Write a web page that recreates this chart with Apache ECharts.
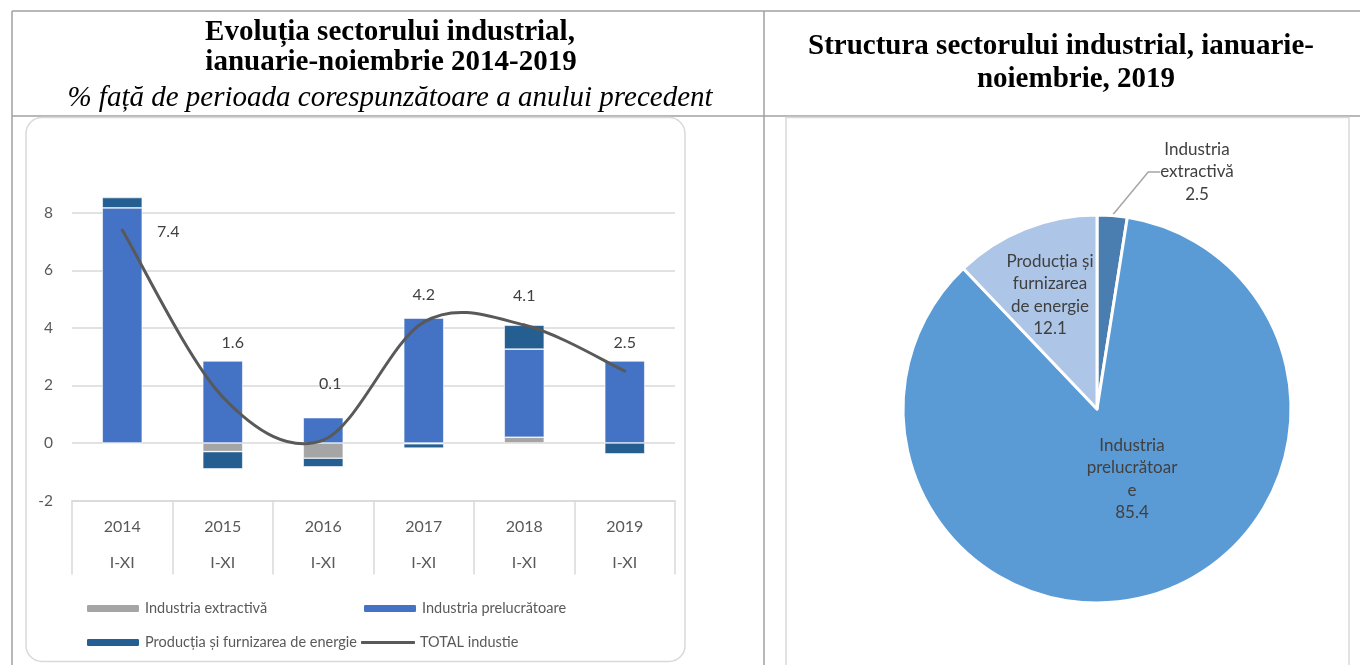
<!DOCTYPE html>
<html>
<head>
<meta charset="utf-8">
<script src="https://cdn.jsdelivr.net/npm/echarts@6/dist/echarts.min.js"></script>
<style>
  html, body { margin: 0; padding: 0; background: #fff; }
  #chart { width: 1360px; height: 665px; }
</style>
</head>
<body>
<div id="chart"></div>
<script>
// date
const years = ['2014', '2015', '2016', '2017', '2018', '2019'];
const periods = ['I-XI', 'I-XI', 'I-XI', 'I-XI', 'I-XI', 'I-XI'];
const extractiva = [0, -0.3, -0.53, -0.03, 0.2, 0];
const prelucratoare = [8.17, 2.85, 0.88, 4.34, 3.06, 2.85];
const energie = [0.36, -0.6, -0.3, -0.15, 0.83, -0.38];
const totalIndustrie = [7.4, 1.6, 0.1, 4.2, 4.1, 2.5];
const yTicks = [-2, 0, 2, 4, 6, 8];

const seriesNames = ['Industria extractivă', 'Industria prelucrătoare', 'Producția și furnizarea de energie', 'TOTAL industie'];

const pieNames = ['Industria extractivă', 'Industria prelucrătoare', 'Producția și furnizarea de energie'];
const pieValues = [2.5, 85.4, 12.1];
const pieLabels = ['Industria\nextractivă', 'Industria\nprelucrătoar\ne', 'Producția și\nfurnizarea\nde energie'];

// pozitii etichete (stil)
const lineLabelOffsets = [[46, 2], [10, -54], [7, -56], [0, -27], [0, -29], [0, -28]];
const pieLabelPos = [[1197, 172], [1132, 479], [1050, 295]];

const font = 'Lato';
const serif = 'Liberation Serif';
const chart = echarts.init(document.getElementById('chart'));

const legendItem = (name, left, top, h, icon) => ({
    data: [icon ? { name: name, icon: icon } : name],
    left: left,
    top: top,
    padding: 0,
    itemWidth: 54,
    itemHeight: h,
    textStyle: { color: '#595959', fontFamily: font, fontSize: 14.5 },
});

const titleText = (text, x, y, extra) => ({
    type: 'text',
    style: Object.assign({
        text: text, x: x, y: y, align: 'center', verticalAlign: 'middle',
        fill: '#000', fontFamily: serif, fontWeight: 'bold', fontSize: 29,
    }, extra || {}),
});

// linia TOTAL netezita ca in Excel (bezier prin punctele datelor)
const renderTotal = (params, api) => {
    const i = params.dataIndexInside;
    const n = params.dataInsideLength;
    const pt = (k) => api.coord([api.value(0, k), api.value(1, k)]);
    const p1 = pt(i);
    const children = [];
    if (i < n - 1) {
        const p0 = pt(Math.max(i - 1, 0));
        const p2 = pt(i + 1);
        const p3 = pt(Math.min(i + 2, n - 1));
        children.push({
            type: 'bezierCurve',
            shape: {
                x1: p1[0], y1: p1[1], x2: p2[0], y2: p2[1],
                cpx1: p1[0] + (p2[0] - p0[0]) / 6, cpy1: p1[1] + (p2[1] - p0[1]) / 6,
                cpx2: p2[0] - (p3[0] - p1[0]) / 6, cpy2: p2[1] - (p3[1] - p1[1]) / 6,
            },
            style: { fill: null, stroke: '#595959', lineWidth: 3, lineCap: 'round' },
        });
    }
    const off = lineLabelOffsets[i];
    children.push({
        type: 'text',
        z2: 10,
        style: {
            text: api.value(1, i).toFixed(1),
            x: p1[0] + off[0], y: p1[1] + off[1],
            align: 'center', verticalAlign: 'middle',
            fill: '#404040', fontFamily: font, fontSize: 16,
        },
    });
    return { type: 'group', children: children };
};

const option = {
    backgroundColor: '#fff',
    animation: false,
    graphic: [
        // chenarul tabelului
        { type: 'line', shape: { x1: 12, y1: 11, x2: 1360, y2: 11 }, style: { stroke: '#a0a0a0', lineWidth: 1.5 } },
        { type: 'line', shape: { x1: 12, y1: 11, x2: 12, y2: 665 }, style: { stroke: '#a0a0a0', lineWidth: 1.5 } },
        { type: 'line', shape: { x1: 764, y1: 11, x2: 764, y2: 665 }, style: { stroke: '#a0a0a0', lineWidth: 1.5 } },
        { type: 'line', shape: { x1: 12, y1: 116, x2: 1360, y2: 116 }, style: { stroke: '#a0a0a0', lineWidth: 1.5 } },
        // chenarele graficelor
        { type: 'rect', shape: { x: 26, y: 117.5, width: 659, height: 544, r: 16 }, style: { fill: 'none', stroke: '#d9d9d9', lineWidth: 1.5 } },
        { type: 'rect', shape: { x: 786, y: 117.5, width: 563, height: 580 }, style: { fill: 'none', stroke: '#d9d9d9', lineWidth: 1.5 } },
        // titluri
        titleText('Evoluția sectorului industrial,', 390, 33),
        titleText('ianuarie-noiembrie 2014-2019', 391, 63),
        titleText('% față de perioada corespunzătoare a anului precedent', 390, 98, { fontWeight: 'normal', fontStyle: 'italic' }),
        titleText('Structura sectorului industrial, ianuarie-', 1061, 47),
        titleText('noiembrie, 2019', 1076, 80),
    ],
    legend: [
        legendItem(seriesNames[0], 85, 601, 9),
        legendItem(seriesNames[1], 362, 601, 9),
        legendItem(seriesNames[2], 85, 635, 9),
        legendItem(seriesNames[3], 361, 635, 3, 'roundRect'),
    ],
    grid: { left: 72, top: 184, right: 685, bottom: 164.5, containLabel: false },
    xAxis: {
        type: 'category',
        data: years,
        axisLine: { onZero: false, lineStyle: { color: '#d9d9d9', width: 1.5 } },
        axisTick: { show: true, interval: 0, length: 74, lineStyle: { color: '#d9d9d9', width: 1.5 } },
        axisLabel: {
            interval: 0,
            margin: 8,
            formatter: (v, i) => '{y|' + v + '}\n{p|' + periods[i] + '}',
            rich: {
                y: { fontFamily: font, fontSize: 16, color: '#595959', lineHeight: 36 },
                p: { fontFamily: font, fontSize: 16, color: '#595959', lineHeight: 36 },
            },
        },
    },
    yAxis: {
        type: 'value',
        min: yTicks[0],
        max: 9,
        interval: 2,
        axisLine: { show: false },
        axisTick: { show: false },
        axisLabel: { showMaxLabel: false, margin: 19, color: '#595959', fontFamily: font, fontSize: 15.5 },
        splitLine: { showMaxLine: false, lineStyle: { color: '#d9d9d9', width: 1.5 } },
    },
    series: [
        {
            name: seriesNames[0], type: 'bar', stack: 'ind', data: extractiva, barWidth: 40,
            itemStyle: { color: '#a5a5a5', borderColor: '#fff', borderWidth: 0.6 },
        },
        {
            name: seriesNames[1], type: 'bar', stack: 'ind', data: prelucratoare, barWidth: 40,
            itemStyle: { color: '#4472c4', borderColor: '#fff', borderWidth: 0.6 },
        },
        {
            name: seriesNames[2], type: 'bar', stack: 'ind', data: energie, barWidth: 40,
            itemStyle: { color: '#255e91', borderColor: '#fff', borderWidth: 0.6 },
        },
        {
            name: seriesNames[3], type: 'custom',
            data: totalIndustrie.map((v, i) => [i, v]),
            encode: { x: 0, y: 1 },
            itemStyle: { color: '#595959' },
            z: 3,
            renderItem: renderTotal,
        },
        {
            type: 'pie',
            center: [1097, 409],
            radius: 194,
            startAngle: 90,
            clockwise: true,
            avoidLabelOverlap: false,
            data: pieValues.map((v, i) => ({
                value: v,
                name: pieNames[i],
                itemStyle: { color: ['#4a7eb0', '#5b9bd5', '#adc5e7'][i] },
                label: { position: i === 0 ? 'outside' : 'inside' },
                labelLine: { show: i === 0 },
            })),
            itemStyle: { borderColor: '#fff', borderWidth: 3 },
            label: {
                formatter: (p) => pieLabels[p.dataIndex] + '\n' + p.value.toFixed(1),
                color: '#404040', fontFamily: font, fontSize: 17, lineHeight: 22.5, align: 'center',
            },
            labelLine: { lineStyle: { color: '#a6a6a6', width: 1.5 }, length: 20, length2: 12 },
            labelLayout: (p) => ({
                x: pieLabelPos[p.dataIndex][0],
                y: pieLabelPos[p.dataIndex][1],
                align: 'center',
                verticalAlign: 'middle',
            }),
        },
    ],
};

chart.setOption(option);
</script>
</body>
</html>
